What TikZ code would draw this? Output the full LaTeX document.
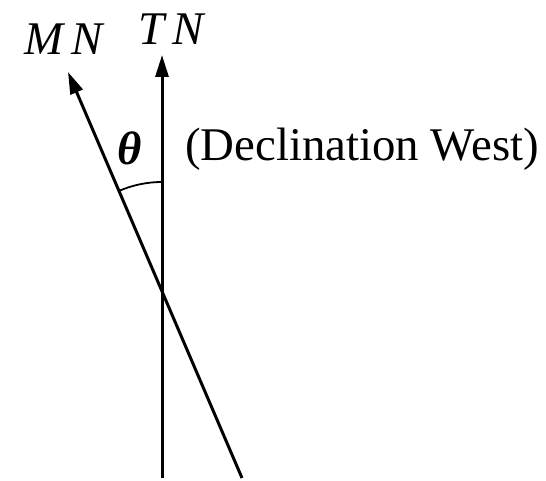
\documentclass[tikz,border=0pt]{standalone}
\usepackage{fontspec}
\setmainfont{Liberation Serif}
\usetikzlibrary{arrows.meta}
\begin{document}
\begin{tikzpicture}[x=1bp,y=1bp,
  ln/.style={line width=3bp, black},
  arr/.style={ln, -{Triangle[length=22bp,width=13bp]}},
  lbl/.style={inner sep=0pt, font=\fontsize{47}{50}\selectfont}]
\useasboundingbox (0,0) rectangle (546,481);
\coordinate (O) at (162,191);
\coordinate (tntip) at (162,426);
\coordinate (vbot) at (162,3);
\coordinate (mntip) at (68,409);
\coordinate (mbot) at (242,3);
\draw[arr] (vbot) -- (tntip);
\draw[arr] (mbot) -- (mntip);
\draw[line width=1.8bp] ([shift={(90:108)}]O) arc[start angle=90,end angle=113.3,radius=108];
\node[lbl] (mn) at (64,442) {\itshape M\,N};
\node[lbl] (tn) at (171,452) {\itshape T\,N};
\node[lbl] (th) at (130,333) {\bfseries\itshape θ};
\node[lbl] (decl) at (362,332) {(Declination West)};
\end{tikzpicture}
\end{document}
